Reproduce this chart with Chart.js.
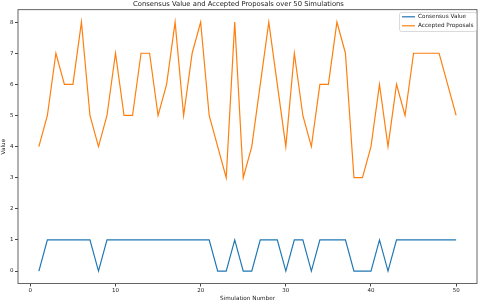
<!DOCTYPE html>
<html>
<head>
<meta charset="utf-8">
<script src="https://cdn.jsdelivr.net/npm/chart.js@4"></script>
<style>
  html, body { margin: 0; padding: 0; background: #fff; }
  #wrap { width: 480px; height: 304px; position: relative; }
</style>
</head>
<body>
<div id="wrap"><canvas id="chart"></canvas></div>
<script>
// Chart data
const simulations = [1, 2, 3, 4, 5, 6, 7, 8, 9, 10,
    11, 12, 13, 14, 15, 16, 17, 18, 19, 20,
    21, 22, 23, 24, 25, 26, 27, 28, 29, 30,
    31, 32, 33, 34, 35, 36, 37, 38, 39, 40,
    41, 42, 43, 44, 45, 46, 47, 48, 49, 50];
const consensusValues = [0, 1, 1, 1, 1, 1, 1, 0, 1, 1,
    1, 1, 1, 1, 1, 1, 1, 1, 1, 1,
    1, 0, 0, 1, 0, 0, 1, 1, 1, 0,
    1, 1, 0, 1, 1, 1, 1, 0, 0, 0,
    1, 0, 1, 1, 1, 1, 1, 1, 1, 1];
const acceptedProposals = [4, 5, 7, 6, 6, 8, 5, 4, 5, 7,
    5, 5, 7, 7, 5, 6, 8, 5, 7, 8,
    5, 4, 3, 8, 3, 4, 6, 8, 6, 4,
    7, 5, 4, 6, 6, 8, 7, 3, 3, 4,
    6, 4, 6, 5, 7, 7, 7, 7, 6, 5];
const xTicks = [0, 10, 20, 30, 40, 50];
const yTicks = [0, 1, 2, 3, 4, 5, 6, 7, 8];

const FONT = "'DejaVu Sans', sans-serif";

function toPoints(values) {
    return simulations.map((s, i) => ({x: s, y: values[i]}));
}

// Frame round the plot area plus an in-plot legend (matplotlib look)
const framePlugin = {
    id: 'frame',
    afterDraw(chart) {
        const ctx = chart.ctx;
        const a = chart.chartArea;
        ctx.save();
        ctx.strokeStyle = '#555';
        ctx.lineWidth = 0.9;
        ctx.strokeRect(a.left, a.top, a.right - a.left, a.bottom - a.top);

        // legend box
        const bx = 399.5, by = 12.5, bw = 77, bh = 19;
        ctx.beginPath();
        ctx.roundRect(bx, by, bw, bh, 2);
        ctx.fillStyle = 'rgba(255,255,255,0.8)';
        ctx.fill();
        ctx.strokeStyle = '#d0d0d0';
        ctx.lineWidth = 0.8;
        ctx.stroke();

        ctx.font = '5.7px ' + FONT;
        ctx.textBaseline = 'middle';
        ctx.textAlign = 'left';
        chart.data.datasets.forEach((ds, i) => {
            const y = 16.8 + i * 9;
            ctx.strokeStyle = ds.borderColor;
            ctx.lineWidth = 1.2;
            ctx.beginPath();
            ctx.moveTo(402, y);
            ctx.lineTo(415, y);
            ctx.stroke();
            ctx.fillStyle = '#222';
            ctx.fillText(ds.label, 418, y);
        });
        ctx.restore();
    }
};

function initChart() {
    const ctx = document.getElementById('chart').getContext('2d');
    return new Chart(ctx, {
        type: 'line',
        data: {
            datasets: [
                {
                    label: 'Consensus Value',
                    data: toPoints(consensusValues),
                    borderColor: '#1f77b4',
                    borderWidth: 1.2,
                    pointRadius: 0,
                    tension: 0
                },
                {
                    label: 'Accepted Proposals',
                    data: toPoints(acceptedProposals),
                    borderColor: '#ff7f0e',
                    borderWidth: 1.2,
                    pointRadius: 0,
                    tension: 0
                }
            ]
        },
        options: {
            responsive: true,
            maintainAspectRatio: false,
            animation: false,
            layout: {
                padding: {top: 0, right: 3, bottom: 0, left: 0}
            },
            plugins: {
                legend: {display: false},
                tooltip: {enabled: false},
                title: {
                    display: true,
                    text: 'Consensus Value and Accepted Proposals over 50 Simulations',
                    color: '#222',
                    font: {family: FONT, size: 6.8, weight: 'normal', lineHeight: 1.2},
                    padding: {top: 0, bottom: 1.5}
                }
            },
            scales: {
                x: {
                    type: 'linear',
                    min: -1.45,
                    max: 52.45,
                    afterFit: (scale) => { scale.height = 20.5; },
                    afterBuildTicks: (scale) => {
                        scale.ticks = xTicks.map(v => ({value: v}));
                    },
                    grid: {
                        drawOnChartArea: false,
                        drawTicks: true,
                        tickLength: 3,
                        color: '#444'
                    },
                    border: {display: false},
                    ticks: {
                        color: '#222',
                        padding: 1,
                        maxRotation: 0,
                        font: {family: FONT, size: 5.5}
                    },
                    title: {
                        display: true,
                        text: 'Simulation Number',
                        color: '#222',
                        font: {family: FONT, size: 5.7, lineHeight: 1.2},
                        padding: {top: 0, bottom: 2}
                    }
                },
                y: {
                    min: -0.4,
                    max: 8.4,
                    afterFit: (scale) => { scale.width = 18; },
                    afterBuildTicks: (scale) => {
                        scale.ticks = yTicks.map(v => ({value: v}));
                    },
                    grid: {
                        drawOnChartArea: false,
                        drawTicks: true,
                        tickLength: 3,
                        color: '#444'
                    },
                    border: {display: false},
                    ticks: {
                        color: '#222',
                        padding: 1.5,
                        font: {family: FONT, size: 5.5}
                    },
                    title: {
                        display: true,
                        text: 'Value',
                        color: '#222',
                        font: {family: FONT, size: 5.7, lineHeight: 1.2},
                        padding: {top: 0.5, bottom: 0}
                    }
                }
            }
        },
        plugins: [framePlugin]
    });
}

document.addEventListener('DOMContentLoaded', () => {
    initChart();
});
</script>
</body>
</html>
